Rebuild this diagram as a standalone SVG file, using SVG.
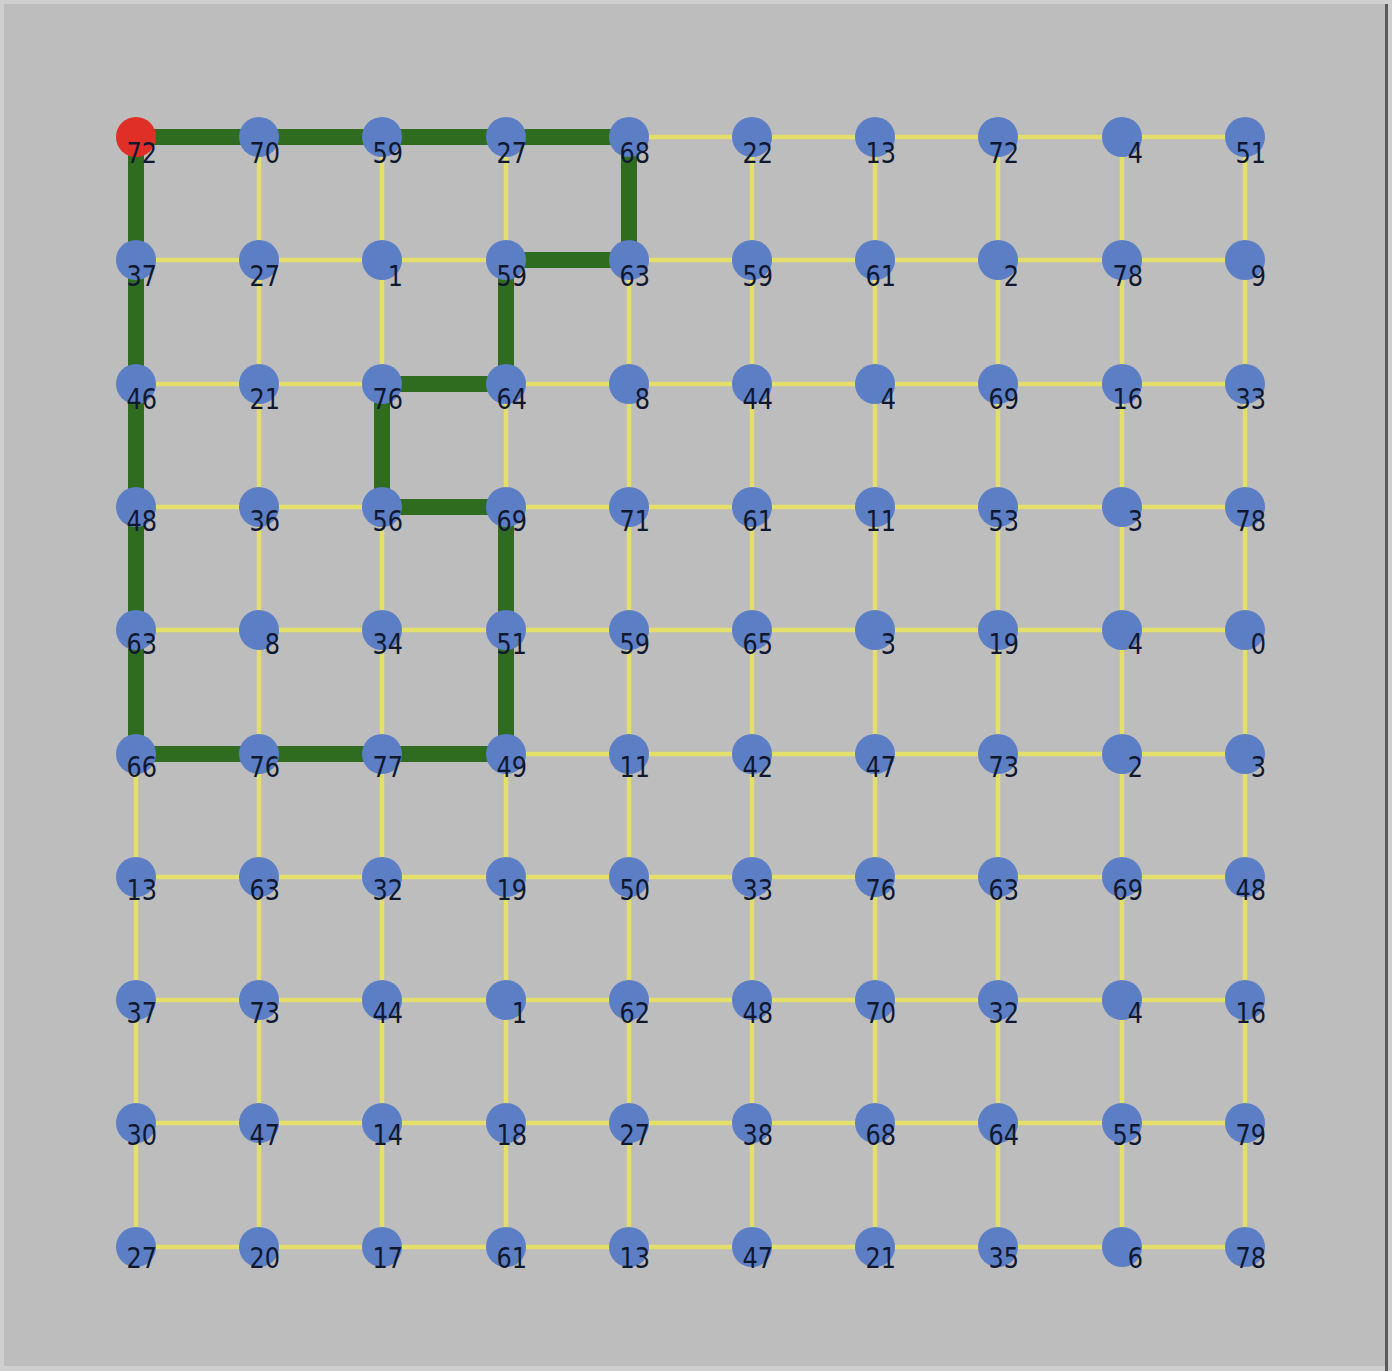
<svg xmlns="http://www.w3.org/2000/svg" width="1392" height="1371" viewBox="0 0 1392 1371">
<style>
.bg{fill:#cfcfcf}
.panel{fill:#bdbdbd}
.e{stroke:#e4df6a;stroke-width:4.5;fill:none}
.p{stroke:#2f6c20;stroke-width:16;fill:none}
.n circle{fill:#5b7ec5}
.n.start circle{fill:#e02f26}
.n text{font-family:"DejaVu Sans",sans-serif;font-size:24px;fill:#101830;text-anchor:end}
</style>
<rect class="bg" x="0" y="0" width="1392" height="1371"/>
<rect class="panel" x="4" y="4" width="1381" height="1362"/>
<rect x="1385" y="4" width="3" height="1367" fill="#5a5a5a"/>
<g id="connectors">
<g id="grid-edges">
<line class="e" x1="136" y1="137" x2="1245" y2="137"/>
<line class="e" x1="136" y1="260" x2="1245" y2="260"/>
<line class="e" x1="136" y1="384" x2="1245" y2="384"/>
<line class="e" x1="136" y1="507" x2="1245" y2="507"/>
<line class="e" x1="136" y1="630" x2="1245" y2="630"/>
<line class="e" x1="136" y1="754" x2="1245" y2="754"/>
<line class="e" x1="136" y1="877" x2="1245" y2="877"/>
<line class="e" x1="136" y1="1000" x2="1245" y2="1000"/>
<line class="e" x1="136" y1="1123" x2="1245" y2="1123"/>
<line class="e" x1="136" y1="1247" x2="1245" y2="1247"/>
<line class="e" x1="136" y1="137" x2="136" y2="1247"/>
<line class="e" x1="259" y1="137" x2="259" y2="1247"/>
<line class="e" x1="382" y1="137" x2="382" y2="1247"/>
<line class="e" x1="506" y1="137" x2="506" y2="1247"/>
<line class="e" x1="629" y1="137" x2="629" y2="1247"/>
<line class="e" x1="752" y1="137" x2="752" y2="1247"/>
<line class="e" x1="875" y1="137" x2="875" y2="1247"/>
<line class="e" x1="998" y1="137" x2="998" y2="1247"/>
<line class="e" x1="1122" y1="137" x2="1122" y2="1247"/>
<line class="e" x1="1245" y1="137" x2="1245" y2="1247"/>
</g>
<g id="path-edges">
<line class="p" x1="136" y1="137" x2="259" y2="137"/>
<line class="p" x1="259" y1="137" x2="382" y2="137"/>
<line class="p" x1="382" y1="137" x2="506" y2="137"/>
<line class="p" x1="506" y1="137" x2="629" y2="137"/>
<line class="p" x1="629" y1="137" x2="629" y2="260"/>
<line class="p" x1="629" y1="260" x2="506" y2="260"/>
<line class="p" x1="506" y1="260" x2="506" y2="384"/>
<line class="p" x1="506" y1="384" x2="382" y2="384"/>
<line class="p" x1="382" y1="384" x2="382" y2="507"/>
<line class="p" x1="382" y1="507" x2="506" y2="507"/>
<line class="p" x1="506" y1="507" x2="506" y2="630"/>
<line class="p" x1="506" y1="630" x2="506" y2="754"/>
<line class="p" x1="506" y1="754" x2="382" y2="754"/>
<line class="p" x1="382" y1="754" x2="259" y2="754"/>
<line class="p" x1="259" y1="754" x2="136" y2="754"/>
<line class="p" x1="136" y1="754" x2="136" y2="630"/>
<line class="p" x1="136" y1="630" x2="136" y2="507"/>
<line class="p" x1="136" y1="507" x2="136" y2="384"/>
<line class="p" x1="136" y1="384" x2="136" y2="260"/>
<line class="p" x1="136" y1="260" x2="136" y2="137"/>
</g>
</g>
<g id="nodes">
<g id="n0_0" class="n start"><circle cx="136" cy="137" r="20"/><text transform="translate(157,163) scale(1,1.2)">72</text></g>
<g id="n0_1" class="n"><circle cx="259" cy="137" r="20"/><text transform="translate(280,163) scale(1,1.2)">70</text></g>
<g id="n0_2" class="n"><circle cx="382" cy="137" r="20"/><text transform="translate(403,163) scale(1,1.2)">59</text></g>
<g id="n0_3" class="n"><circle cx="506" cy="137" r="20"/><text transform="translate(527,163) scale(1,1.2)">27</text></g>
<g id="n0_4" class="n"><circle cx="629" cy="137" r="20"/><text transform="translate(650,163) scale(1,1.2)">68</text></g>
<g id="n0_5" class="n"><circle cx="752" cy="137" r="20"/><text transform="translate(773,163) scale(1,1.2)">22</text></g>
<g id="n0_6" class="n"><circle cx="875" cy="137" r="20"/><text transform="translate(896,163) scale(1,1.2)">13</text></g>
<g id="n0_7" class="n"><circle cx="998" cy="137" r="20"/><text transform="translate(1019,163) scale(1,1.2)">72</text></g>
<g id="n0_8" class="n"><circle cx="1122" cy="137" r="20"/><text transform="translate(1143,163) scale(1,1.2)">4</text></g>
<g id="n0_9" class="n"><circle cx="1245" cy="137" r="20"/><text transform="translate(1266,163) scale(1,1.2)">51</text></g>
<g id="n1_0" class="n"><circle cx="136" cy="260" r="20"/><text transform="translate(157,286) scale(1,1.2)">37</text></g>
<g id="n1_1" class="n"><circle cx="259" cy="260" r="20"/><text transform="translate(280,286) scale(1,1.2)">27</text></g>
<g id="n1_2" class="n"><circle cx="382" cy="260" r="20"/><text transform="translate(403,286) scale(1,1.2)">1</text></g>
<g id="n1_3" class="n"><circle cx="506" cy="260" r="20"/><text transform="translate(527,286) scale(1,1.2)">59</text></g>
<g id="n1_4" class="n"><circle cx="629" cy="260" r="20"/><text transform="translate(650,286) scale(1,1.2)">63</text></g>
<g id="n1_5" class="n"><circle cx="752" cy="260" r="20"/><text transform="translate(773,286) scale(1,1.2)">59</text></g>
<g id="n1_6" class="n"><circle cx="875" cy="260" r="20"/><text transform="translate(896,286) scale(1,1.2)">61</text></g>
<g id="n1_7" class="n"><circle cx="998" cy="260" r="20"/><text transform="translate(1019,286) scale(1,1.2)">2</text></g>
<g id="n1_8" class="n"><circle cx="1122" cy="260" r="20"/><text transform="translate(1143,286) scale(1,1.2)">78</text></g>
<g id="n1_9" class="n"><circle cx="1245" cy="260" r="20"/><text transform="translate(1266,286) scale(1,1.2)">9</text></g>
<g id="n2_0" class="n"><circle cx="136" cy="384" r="20"/><text transform="translate(157,409) scale(1,1.2)">46</text></g>
<g id="n2_1" class="n"><circle cx="259" cy="384" r="20"/><text transform="translate(280,409) scale(1,1.2)">21</text></g>
<g id="n2_2" class="n"><circle cx="382" cy="384" r="20"/><text transform="translate(403,409) scale(1,1.2)">76</text></g>
<g id="n2_3" class="n"><circle cx="506" cy="384" r="20"/><text transform="translate(527,409) scale(1,1.2)">64</text></g>
<g id="n2_4" class="n"><circle cx="629" cy="384" r="20"/><text transform="translate(650,409) scale(1,1.2)">8</text></g>
<g id="n2_5" class="n"><circle cx="752" cy="384" r="20"/><text transform="translate(773,409) scale(1,1.2)">44</text></g>
<g id="n2_6" class="n"><circle cx="875" cy="384" r="20"/><text transform="translate(896,409) scale(1,1.2)">4</text></g>
<g id="n2_7" class="n"><circle cx="998" cy="384" r="20"/><text transform="translate(1019,409) scale(1,1.2)">69</text></g>
<g id="n2_8" class="n"><circle cx="1122" cy="384" r="20"/><text transform="translate(1143,409) scale(1,1.2)">16</text></g>
<g id="n2_9" class="n"><circle cx="1245" cy="384" r="20"/><text transform="translate(1266,409) scale(1,1.2)">33</text></g>
<g id="n3_0" class="n"><circle cx="136" cy="507" r="20"/><text transform="translate(157,531) scale(1,1.2)">48</text></g>
<g id="n3_1" class="n"><circle cx="259" cy="507" r="20"/><text transform="translate(280,531) scale(1,1.2)">36</text></g>
<g id="n3_2" class="n"><circle cx="382" cy="507" r="20"/><text transform="translate(403,531) scale(1,1.2)">56</text></g>
<g id="n3_3" class="n"><circle cx="506" cy="507" r="20"/><text transform="translate(527,531) scale(1,1.2)">69</text></g>
<g id="n3_4" class="n"><circle cx="629" cy="507" r="20"/><text transform="translate(650,531) scale(1,1.2)">71</text></g>
<g id="n3_5" class="n"><circle cx="752" cy="507" r="20"/><text transform="translate(773,531) scale(1,1.2)">61</text></g>
<g id="n3_6" class="n"><circle cx="875" cy="507" r="20"/><text transform="translate(896,531) scale(1,1.2)">11</text></g>
<g id="n3_7" class="n"><circle cx="998" cy="507" r="20"/><text transform="translate(1019,531) scale(1,1.2)">53</text></g>
<g id="n3_8" class="n"><circle cx="1122" cy="507" r="20"/><text transform="translate(1143,531) scale(1,1.2)">3</text></g>
<g id="n3_9" class="n"><circle cx="1245" cy="507" r="20"/><text transform="translate(1266,531) scale(1,1.2)">78</text></g>
<g id="n4_0" class="n"><circle cx="136" cy="630" r="20"/><text transform="translate(157,654) scale(1,1.2)">63</text></g>
<g id="n4_1" class="n"><circle cx="259" cy="630" r="20"/><text transform="translate(280,654) scale(1,1.2)">8</text></g>
<g id="n4_2" class="n"><circle cx="382" cy="630" r="20"/><text transform="translate(403,654) scale(1,1.2)">34</text></g>
<g id="n4_3" class="n"><circle cx="506" cy="630" r="20"/><text transform="translate(527,654) scale(1,1.2)">51</text></g>
<g id="n4_4" class="n"><circle cx="629" cy="630" r="20"/><text transform="translate(650,654) scale(1,1.2)">59</text></g>
<g id="n4_5" class="n"><circle cx="752" cy="630" r="20"/><text transform="translate(773,654) scale(1,1.2)">65</text></g>
<g id="n4_6" class="n"><circle cx="875" cy="630" r="20"/><text transform="translate(896,654) scale(1,1.2)">3</text></g>
<g id="n4_7" class="n"><circle cx="998" cy="630" r="20"/><text transform="translate(1019,654) scale(1,1.2)">19</text></g>
<g id="n4_8" class="n"><circle cx="1122" cy="630" r="20"/><text transform="translate(1143,654) scale(1,1.2)">4</text></g>
<g id="n4_9" class="n"><circle cx="1245" cy="630" r="20"/><text transform="translate(1266,654) scale(1,1.2)">0</text></g>
<g id="n5_0" class="n"><circle cx="136" cy="754" r="20"/><text transform="translate(157,777) scale(1,1.2)">66</text></g>
<g id="n5_1" class="n"><circle cx="259" cy="754" r="20"/><text transform="translate(280,777) scale(1,1.2)">76</text></g>
<g id="n5_2" class="n"><circle cx="382" cy="754" r="20"/><text transform="translate(403,777) scale(1,1.2)">77</text></g>
<g id="n5_3" class="n"><circle cx="506" cy="754" r="20"/><text transform="translate(527,777) scale(1,1.2)">49</text></g>
<g id="n5_4" class="n"><circle cx="629" cy="754" r="20"/><text transform="translate(650,777) scale(1,1.2)">11</text></g>
<g id="n5_5" class="n"><circle cx="752" cy="754" r="20"/><text transform="translate(773,777) scale(1,1.2)">42</text></g>
<g id="n5_6" class="n"><circle cx="875" cy="754" r="20"/><text transform="translate(896,777) scale(1,1.2)">47</text></g>
<g id="n5_7" class="n"><circle cx="998" cy="754" r="20"/><text transform="translate(1019,777) scale(1,1.2)">73</text></g>
<g id="n5_8" class="n"><circle cx="1122" cy="754" r="20"/><text transform="translate(1143,777) scale(1,1.2)">2</text></g>
<g id="n5_9" class="n"><circle cx="1245" cy="754" r="20"/><text transform="translate(1266,777) scale(1,1.2)">3</text></g>
<g id="n6_0" class="n"><circle cx="136" cy="877" r="20"/><text transform="translate(157,900) scale(1,1.2)">13</text></g>
<g id="n6_1" class="n"><circle cx="259" cy="877" r="20"/><text transform="translate(280,900) scale(1,1.2)">63</text></g>
<g id="n6_2" class="n"><circle cx="382" cy="877" r="20"/><text transform="translate(403,900) scale(1,1.2)">32</text></g>
<g id="n6_3" class="n"><circle cx="506" cy="877" r="20"/><text transform="translate(527,900) scale(1,1.2)">19</text></g>
<g id="n6_4" class="n"><circle cx="629" cy="877" r="20"/><text transform="translate(650,900) scale(1,1.2)">50</text></g>
<g id="n6_5" class="n"><circle cx="752" cy="877" r="20"/><text transform="translate(773,900) scale(1,1.2)">33</text></g>
<g id="n6_6" class="n"><circle cx="875" cy="877" r="20"/><text transform="translate(896,900) scale(1,1.2)">76</text></g>
<g id="n6_7" class="n"><circle cx="998" cy="877" r="20"/><text transform="translate(1019,900) scale(1,1.2)">63</text></g>
<g id="n6_8" class="n"><circle cx="1122" cy="877" r="20"/><text transform="translate(1143,900) scale(1,1.2)">69</text></g>
<g id="n6_9" class="n"><circle cx="1245" cy="877" r="20"/><text transform="translate(1266,900) scale(1,1.2)">48</text></g>
<g id="n7_0" class="n"><circle cx="136" cy="1000" r="20"/><text transform="translate(157,1023) scale(1,1.2)">37</text></g>
<g id="n7_1" class="n"><circle cx="259" cy="1000" r="20"/><text transform="translate(280,1023) scale(1,1.2)">73</text></g>
<g id="n7_2" class="n"><circle cx="382" cy="1000" r="20"/><text transform="translate(403,1023) scale(1,1.2)">44</text></g>
<g id="n7_3" class="n"><circle cx="506" cy="1000" r="20"/><text transform="translate(527,1023) scale(1,1.2)">1</text></g>
<g id="n7_4" class="n"><circle cx="629" cy="1000" r="20"/><text transform="translate(650,1023) scale(1,1.2)">62</text></g>
<g id="n7_5" class="n"><circle cx="752" cy="1000" r="20"/><text transform="translate(773,1023) scale(1,1.2)">48</text></g>
<g id="n7_6" class="n"><circle cx="875" cy="1000" r="20"/><text transform="translate(896,1023) scale(1,1.2)">70</text></g>
<g id="n7_7" class="n"><circle cx="998" cy="1000" r="20"/><text transform="translate(1019,1023) scale(1,1.2)">32</text></g>
<g id="n7_8" class="n"><circle cx="1122" cy="1000" r="20"/><text transform="translate(1143,1023) scale(1,1.2)">4</text></g>
<g id="n7_9" class="n"><circle cx="1245" cy="1000" r="20"/><text transform="translate(1266,1023) scale(1,1.2)">16</text></g>
<g id="n8_0" class="n"><circle cx="136" cy="1123" r="20"/><text transform="translate(157,1145) scale(1,1.2)">30</text></g>
<g id="n8_1" class="n"><circle cx="259" cy="1123" r="20"/><text transform="translate(280,1145) scale(1,1.2)">47</text></g>
<g id="n8_2" class="n"><circle cx="382" cy="1123" r="20"/><text transform="translate(403,1145) scale(1,1.2)">14</text></g>
<g id="n8_3" class="n"><circle cx="506" cy="1123" r="20"/><text transform="translate(527,1145) scale(1,1.2)">18</text></g>
<g id="n8_4" class="n"><circle cx="629" cy="1123" r="20"/><text transform="translate(650,1145) scale(1,1.2)">27</text></g>
<g id="n8_5" class="n"><circle cx="752" cy="1123" r="20"/><text transform="translate(773,1145) scale(1,1.2)">38</text></g>
<g id="n8_6" class="n"><circle cx="875" cy="1123" r="20"/><text transform="translate(896,1145) scale(1,1.2)">68</text></g>
<g id="n8_7" class="n"><circle cx="998" cy="1123" r="20"/><text transform="translate(1019,1145) scale(1,1.2)">64</text></g>
<g id="n8_8" class="n"><circle cx="1122" cy="1123" r="20"/><text transform="translate(1143,1145) scale(1,1.2)">55</text></g>
<g id="n8_9" class="n"><circle cx="1245" cy="1123" r="20"/><text transform="translate(1266,1145) scale(1,1.2)">79</text></g>
<g id="n9_0" class="n"><circle cx="136" cy="1247" r="20"/><text transform="translate(157,1268) scale(1,1.2)">27</text></g>
<g id="n9_1" class="n"><circle cx="259" cy="1247" r="20"/><text transform="translate(280,1268) scale(1,1.2)">20</text></g>
<g id="n9_2" class="n"><circle cx="382" cy="1247" r="20"/><text transform="translate(403,1268) scale(1,1.2)">17</text></g>
<g id="n9_3" class="n"><circle cx="506" cy="1247" r="20"/><text transform="translate(527,1268) scale(1,1.2)">61</text></g>
<g id="n9_4" class="n"><circle cx="629" cy="1247" r="20"/><text transform="translate(650,1268) scale(1,1.2)">13</text></g>
<g id="n9_5" class="n"><circle cx="752" cy="1247" r="20"/><text transform="translate(773,1268) scale(1,1.2)">47</text></g>
<g id="n9_6" class="n"><circle cx="875" cy="1247" r="20"/><text transform="translate(896,1268) scale(1,1.2)">21</text></g>
<g id="n9_7" class="n"><circle cx="998" cy="1247" r="20"/><text transform="translate(1019,1268) scale(1,1.2)">35</text></g>
<g id="n9_8" class="n"><circle cx="1122" cy="1247" r="20"/><text transform="translate(1143,1268) scale(1,1.2)">6</text></g>
<g id="n9_9" class="n"><circle cx="1245" cy="1247" r="20"/><text transform="translate(1266,1268) scale(1,1.2)">78</text></g>
</g>
</svg>
